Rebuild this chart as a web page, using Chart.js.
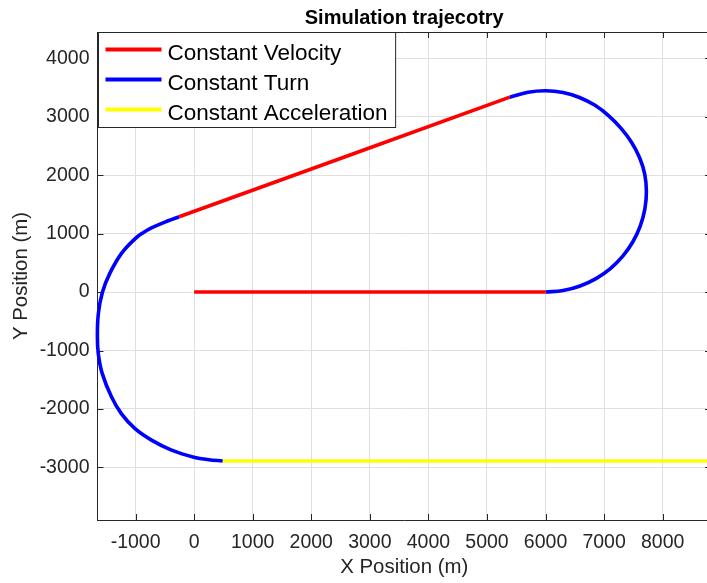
<!DOCTYPE html>
<html>
<head>
<meta charset="utf-8">
<title>Simulation trajecotry</title>
<script src="https://cdn.jsdelivr.net/npm/chart.js@4/dist/chart.umd.min.js"></script>
<style>
  html, body { margin: 0; padding: 0; background: #ffffff; overflow: hidden; }
  #wrap { width: 715px; height: 583px; }
</style>
</head>
<body>
<div id="wrap"><canvas id="traj" width="715" height="583"></canvas></div>
<script>
// ---- trajectory segments (metres) ----
// leg 1: constant velocity along +x
const cv1X = [0, 6000];
const cv1Y = [0, 0];
// leg 2: constant turn (counter-clockwise)
const ct1X = [6000, 6299, 6589, 6861, 7107, 7319, 7491, 7618, 7696, 7722, 7694, 7608, 7470, 7290, 7080, 6845, 6580, 6299, 6000, 5701, 5390];
const ct1Y = [0, 26, 104, 231, 403, 615, 861, 1133, 1423, 1722, 2015, 2295, 2560, 2800, 3015, 3195, 3330, 3415, 3444, 3418, 3335];
// leg 3: constant velocity back to the west
const cv2X = [5390, -256];
const cv2Y = [3335, 1289];
// leg 4: constant turn (counter-clockwise)
const ct2X = [-256, -444, -720, -877, -1005, -1240, -1440, -1565, -1635, -1652, -1636, -1570, -1412, -1240, -1014, -728, -386, 12, 250, 486];
const ct2Y = [1289, 1220, 1102, 1012, 915, 662, 320, 0, -365, -760, -1060, -1391, -1792, -2085, -2333, -2533, -2704, -2829, -2868, -2890];
// leg 5: constant acceleration along +x
const caX = [486, 9200];
const caY = [-2890, -2890];

// legend entries and colours
const seriesLabels = ['Constant Velocity', 'Constant Turn', 'Constant Acceleration'];
const seriesColors = ['#ff0000', '#0000ff', '#ffff00'];

// tick values
const xTickValues = [-1000, 0, 1000, 2000, 3000, 4000, 5000, 6000, 7000, 8000];
const yTickValues = [-3000, -2000, -1000, 0, 1000, 2000, 3000, 4000];

const titleText = 'Simulation trajecotry';
const xTitle = 'X Position (m)';
const yTitle = 'Y Position (m)';

const FONT = '"Liberation Sans", Arial, Helvetica, sans-serif';
const AXIS_COLOR = '#262626';
const GRID_COLOR = '#dfdfdf';

Chart.defaults.font.family = FONT;

function toPoints(xs, ys) {
  return xs.map((x, i) => ({ x: x, y: ys[i] }));
}

function segment(label, xs, ys, color) {
  return {
    label: label,
    data: toPoints(xs, ys),
    showLine: true,
    borderColor: color,
    backgroundColor: color,
    borderWidth: 3.6,
    borderJoinStyle: 'round',
    pointRadius: 0,
    pointHoverRadius: 0,
    tension: 0.4,
    clip: 5,
    fill: false
  };
}

// axes box: top/right edges and inward tick marks
const axesFrame = {
  id: 'axesFrame',
  beforeDatasetsDraw(chart) {
    const { ctx, chartArea: a, scales } = chart;
    const tick = 6;
    ctx.save();
    ctx.strokeStyle = AXIS_COLOR;
    ctx.lineWidth = 1;
    ctx.beginPath();
    ctx.moveTo(a.left, Math.round(a.top) + 0.5);
    ctx.lineTo(a.right, Math.round(a.top) + 0.5);
    ctx.moveTo(Math.round(a.right) - 0.5, a.top);
    ctx.lineTo(Math.round(a.right) - 0.5, a.bottom);
    scales.x.ticks.forEach(t => {
      const px = Math.round(scales.x.getPixelForValue(t.value)) + 0.5;
      ctx.moveTo(px, a.bottom);
      ctx.lineTo(px, a.bottom - tick);
      ctx.moveTo(px, a.top);
      ctx.lineTo(px, a.top + tick);
    });
    scales.y.ticks.forEach(t => {
      const py = Math.round(scales.y.getPixelForValue(t.value)) + 0.5;
      ctx.moveTo(a.left, py);
      ctx.lineTo(a.left + tick, py);
      ctx.moveTo(a.right, py);
      ctx.lineTo(a.right - tick, py);
    });
    ctx.stroke();
    ctx.restore();
  }
};

// boxed legend in the upper-left corner of the plot area
const boxLegend = {
  id: 'boxLegend',
  afterDatasetsDraw(chart) {
    const { ctx, chartArea: a } = chart;
    ctx.save();
    ctx.font = '22.5px ' + FONT;
    const textW = Math.max(...seriesLabels.map(t => ctx.measureText(t).width));
    const x0 = Math.round(a.left) + 0.5;
    const y0 = Math.round(a.top) + 0.5;
    const sampleX = 7, sampleW = 56, gap = 6, rowH = 30, firstRow = 17;
    const w = sampleX + sampleW + gap + textW + 8;
    const h = firstRow + rowH * (seriesLabels.length - 1) + 18;
    ctx.fillStyle = '#ffffff';
    ctx.fillRect(x0, y0, w, h);
    ctx.strokeStyle = AXIS_COLOR;
    ctx.lineWidth = 1;
    ctx.strokeRect(x0, y0, w, h);
    seriesLabels.forEach((label, i) => {
      const yy = y0 + firstRow + rowH * i;
      ctx.strokeStyle = seriesColors[i];
      ctx.lineWidth = 4;
      ctx.beginPath();
      ctx.moveTo(x0 + sampleX, yy);
      ctx.lineTo(x0 + sampleX + sampleW, yy);
      ctx.stroke();
      ctx.fillStyle = '#000000';
      ctx.textBaseline = 'alphabetic';
      ctx.textAlign = 'left';
      ctx.fillText(label, x0 + sampleX + sampleW + gap, yy + 10);
    });
    ctx.restore();
  }
};

new Chart(document.getElementById('traj'), {
  type: 'scatter',
  data: {
    datasets: [
      segment(seriesLabels[0], cv1X, cv1Y, seriesColors[0]),
      segment(seriesLabels[1], ct1X, ct1Y, seriesColors[1]),
      segment(seriesLabels[0], cv2X, cv2Y, seriesColors[0]),
      segment(seriesLabels[1], ct2X, ct2Y, seriesColors[1]),
      segment(seriesLabels[2], caX, caY, seriesColors[2])
    ]
  },
  options: {
    responsive: false,
    animation: false,
    events: [],
    elements: { line: { capBezierPoints: false } },
    layout: { padding: { top: 0, right: 4, bottom: 0, left: 0 } },
    plugins: {
      legend: { display: false },
      tooltip: { enabled: false },
      title: {
        display: true,
        text: titleText,
        fullSize: false,
        color: '#000000',
        font: { size: 20, weight: 'bold' },
        padding: { top: 6, bottom: 2 }
      }
    },
    scales: {
      x: {
        type: 'linear',
        position: 'bottom',
        min: -1650,
        max: 8825,
        afterBuildTicks: s => { s.ticks = xTickValues.map(v => ({ value: v })); },
        afterFit: s => { s.height = 63; },
        grid: { color: GRID_COLOR, lineWidth: 1, drawTicks: false },
        border: { display: true, color: AXIS_COLOR, width: 1 },
        ticks: {
          color: AXIS_COLOR,
          font: { size: 19.5 },
          padding: 10.5,
          maxRotation: 0,
          autoSkip: false,
          callback: v => String(v)
        },
        title: {
          display: true,
          text: xTitle,
          color: AXIS_COLOR,
          font: { size: 20.4 },
          padding: { top: 0, bottom: 3 }
        }
      },
      y: {
        type: 'linear',
        position: 'left',
        min: -3900,
        max: 4450,
        afterBuildTicks: s => { s.ticks = yTickValues.map(v => ({ value: v })); },
        afterFit: s => { s.width = 97.5; },
        grid: { color: GRID_COLOR, lineWidth: 1, drawTicks: false },
        border: { display: true, color: AXIS_COLOR, width: 1 },
        ticks: {
          color: AXIS_COLOR,
          font: { size: 19.5 },
          padding: 8,
          autoSkip: false,
          callback: v => String(v)
        },
        title: {
          display: true,
          text: yTitle,
          color: AXIS_COLOR,
          font: { size: 20.4 },
          padding: { top: 9, bottom: 0 }
        }
      }
    }
  },
  plugins: [axesFrame, boxLegend]
});
</script>
</body>
</html>
